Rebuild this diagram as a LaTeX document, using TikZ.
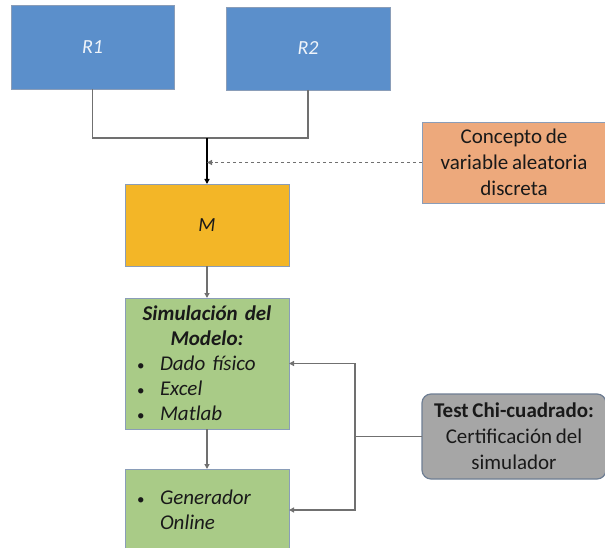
\documentclass[tikz,border=0pt]{standalone}
\usepackage{fontspec}
\setmainfont{Carlito}[WordSpace=0.8]
\usetikzlibrary{arrows.meta, positioning}
\definecolor{rBlue}{HTML}{5B8FCB}
\definecolor{mGold}{HTML}{F3B627}
\definecolor{simGreen}{HTML}{A9CB87}
\definecolor{concOrange}{HTML}{EDA97C}
\definecolor{testGray}{HTML}{A6A6A6}
\definecolor{edgeBlue}{HTML}{8A9DB8}
\definecolor{wireGray}{HTML}{707070}
\newcommand{\arrow}{{Triangle[length=5pt, width=5pt]}}
\newcommand{\lineWidth}{1.3pt}
\newcommand{\boxWidth}{164pt}
\newcommand{\sideWidth}{184pt}
\newcommand{\bulletGap}{\makebox[23pt][l]{\upshape\fontsize{15}{25}\selectfont\textbullet}}
\tikzstyle{panel}=[draw=edgeBlue, line width=0.6pt, inner sep=0, outer sep=0, align=center,
  font=\fontsize{21}{26}\selectfont, text=black!90]
\tikzstyle{block}=[panel, minimum width=\boxWidth]
\tikzstyle{side}=[panel, minimum width=\sideWidth]
\tikzstyle{list}=[block, inner xsep=12pt, text width=140pt, align=left, font=\fontsize{21}{25}\selectfont\itshape]
\tikzstyle{line}=[draw=wireGray, line width=\lineWidth]
\tikzstyle{arrow}=[line, -\arrow]

\begin{document}
\begin{tikzpicture}[x=1pt, y=-1pt]

% Frame
\useasboundingbox (0,0) rectangle (605,548);

% Top blocks
\node[block, fill=rBlue, minimum width=163pt, minimum height=84pt, text=white!90!rBlue,
  font=\fontsize{20}{24}\selectfont\itshape] (r1) at (92.5,47) {R1};
\node[block, fill=rBlue, minimum height=83pt, text=white!90!rBlue,
  font=\fontsize{20}{24}\selectfont\itshape] (r2) at (308,48.5) {R2};
\node[block, fill=mGold, minimum height=82pt, font=\fontsize{20}{24}\selectfont\itshape] (m) at (207,225) {M};

% Simulation blocks
\node[list, fill=simGreen, minimum height=131pt] (sim) at (207,363.5) {%
  {\centering\bfseries Simulación del\\Modelo:\par}
  \bulletGap Dado físico\\
  \bulletGap Excel\\
  \bulletGap Matlab};
\node[list, fill=simGreen, minimum height=82pt] (gen) at (207,510) {%
  \bulletGap Generador\\
  \hspace*{23pt}Online};

% Side blocks
\node[side, fill=concOrange, minimum height=81pt] (concepto) at (514,162.5)
  {Concepto de\\variable aleatoria\\discreta};
\node[side, fill=testGray, draw=edgeBlue!80!black, line width=1.2pt, rounded corners=9pt,
  minimum height=85pt] (test) at (514,436.5)
  {\textbf{Test Chi-cuadrado:}\\Certificación del\\simulador};

% Useful coordinates
\coordinate (join) at (207,138);
\coordinate (bus) at (355,436.5);

% Connectors
\draw[line] (r1.south) |- (join);
\draw[line] (r2.south) |- (join);
\draw[arrow, draw=black, line width=1.6pt] (join) -- (m.north);
\draw[line, dashed, -\arrow] (concepto.west) -- (concepto.west -| join);
\draw[arrow] (m.south) -- (sim.north);
\draw[arrow] (sim.south) -- (gen.north);
\draw[line] (test.west) -- (bus);
\draw[arrow] (bus) |- (sim.east);
\draw[arrow] (bus) |- (gen.east);

\end{tikzpicture}
\end{document}
